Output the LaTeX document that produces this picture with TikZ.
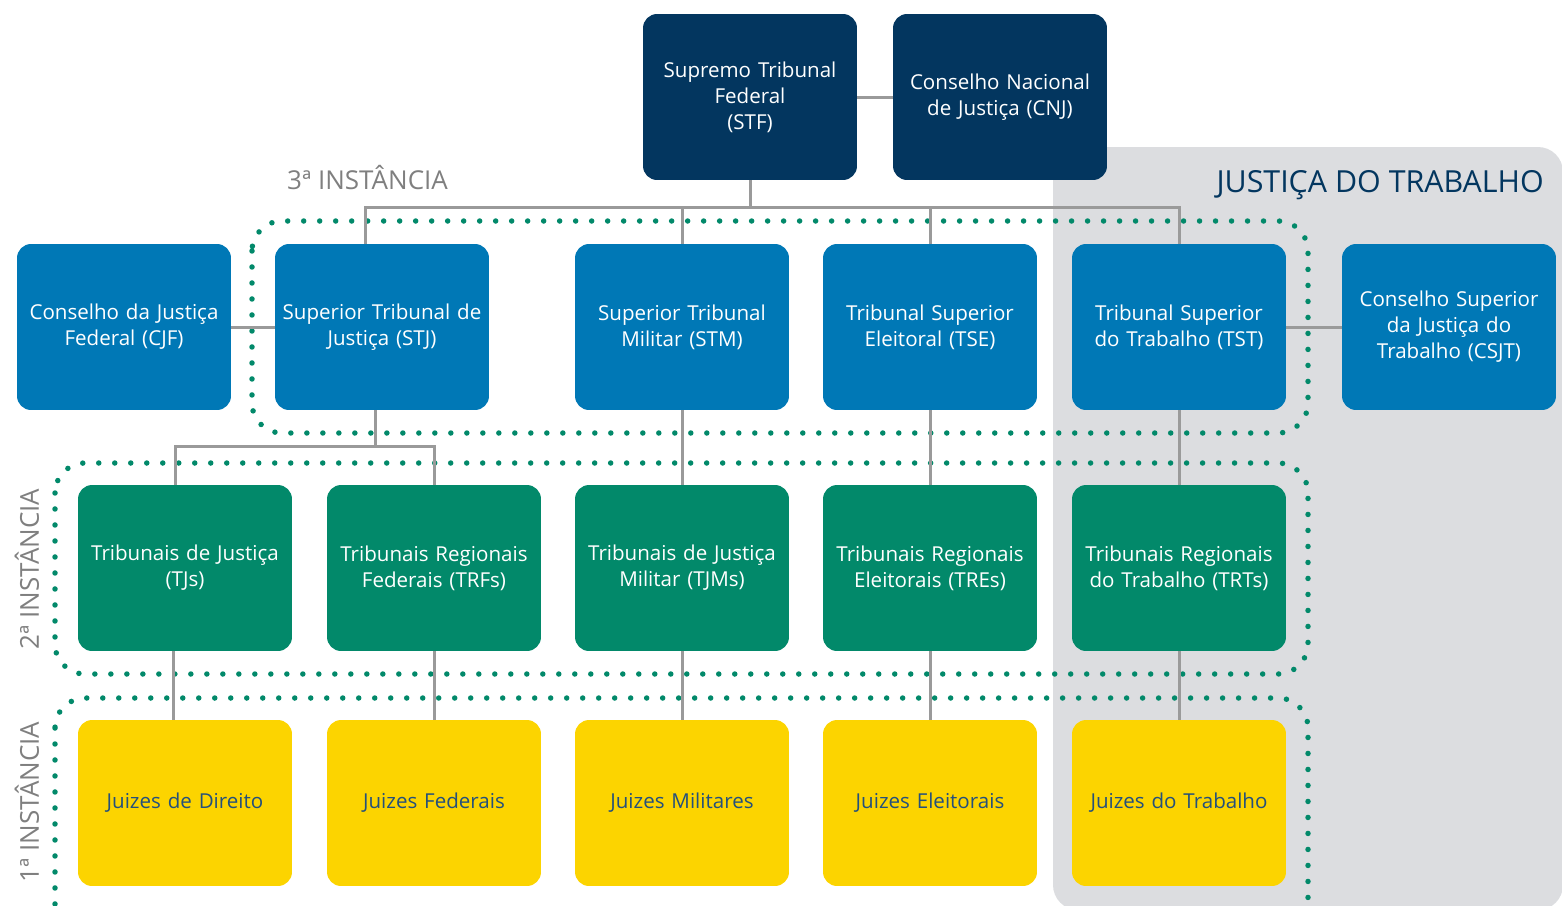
\documentclass[tikz,border=0pt]{standalone}
\usepackage{fontspec}
\setmainfont{Open Sans}
\usetikzlibrary{positioning}

\definecolor{navy}{HTML}{03365F}
\definecolor{azul}{HTML}{0078B6}
\definecolor{verde}{HTML}{02896A}
\definecolor{amarelo}{HTML}{FCD400}
\definecolor{cinza}{HTML}{DCDDE0}
\definecolor{linha}{HTML}{9A9A9A}
\definecolor{rotulo}{HTML}{7F7F7F}
\definecolor{textoazul}{HTML}{24507C}

\begin{document}
\begin{tikzpicture}[x=0.02cm, y=-0.02cm,
  box/.style={rounded corners=0.28cm, minimum width=4.28cm, minimum height=3.32cm,
    text width=4.2cm, align=center, inner sep=0pt, text=white,
    font=\fontsize{11.7}{14.8}\selectfont},
  cupula/.style={box, fill=navy},
  superior/.style={box, fill=azul},
  regional/.style={box, fill=verde},
  primeira/.style={box, fill=amarelo, text=textoazul},
  conn/.style={draw=linha, line width=0.06cm},
  inst/.style={draw=verde, line width=0.11cm, line cap=round,
    dash pattern=on 0pt off 0.32cm, rounded corners=0.6cm},
  rotulo/.style={text=rotulo, font=\fontsize{14.8}{17}\selectfont}]

\useasboundingbox (0,0) rectangle (1562,906);

% justica do trabalho
\fill[cinza, rounded corners=0.5cm] (1053,147) rectangle (1563,910);

% instancias
\draw[inst] (252,221) rectangle (1308,433);
\draw[inst] (55,463) rectangle (1308,674);
\draw[inst] (55,698) rectangle (1308,935);

\node[rotulo, anchor=west] (l3) at (281,178) {3ª INSTÂNCIA};
\node[rotulo, rotate=90] (l2) at (27,569) {2ª INSTÂNCIA};
\node[rotulo, rotate=90] (l1) at (27,802) {1ª INSTÂNCIA};
\node[anchor=east, text=navy, font=\fontsize{17.3}{20}\selectfont] (jt) at (1550,185) {JUSTIÇA DO TRABALHO};

% cupula
\node[cupula] (stf) at (750,97) {Supremo Tribunal\\Federal\\(STF)};
\node[cupula] (cnj) at (1000,97) {Conselho Nacional\\de Justiça (CNJ)};

% tribunais superiores
\node[superior] (cjf) at (124,327) {Conselho da Justiça\\Federal (CJF)};
\node[superior] (stj) at (382,327) {Superior Tribunal de\\Justiça (STJ)};
\node[superior] (stm) at (682,327) {Superior Tribunal\\Militar (STM)};
\node[superior] (tse) at (930,327) {Tribunal Superior\\Eleitoral (TSE)};
\node[superior] (tst) at (1179,327) {Tribunal Superior\\do Trabalho (TST)};
\node[superior] (csjt) at (1449,327) {Conselho Superior\\da Justiça do\\Trabalho (CSJT)};

% 2a instancia
\node[regional] (tjs) at (185,568) {Tribunais de Justiça\\(TJs)};
\node[regional] (trfs) at (434,568) {Tribunais Regionais\\Federais (TRFs)};
\node[regional] (tjms) at (682,568) {Tribunais de Justiça\\Militar (TJMs)};
\node[regional] (tres) at (930,568) {Tribunais Regionais\\Eleitorais (TREs)};
\node[regional] (trts) at (1179,568) {Tribunais Regionais\\do Trabalho (TRTs)};

% 1a instancia
\node[primeira] (jdir) at (185,803) {Juizes de Direito};
\node[primeira] (jfed) at (434,803) {Juizes Federais};
\node[primeira] (jmil) at (682,803) {Juizes Militares};
\node[primeira] (jele) at (930,803) {Juizes Eleitorais};
\node[primeira] (jtra) at (1179,803) {Juizes do Trabalho};

% ligacoes
\coordinate (topo) at (750,207);
\coordinate (ramo) at (375,446);
\draw[conn] (stf.east) -- (cnj.west);
\draw[conn] (stf.south) -- (topo);
\draw[conn] ([xshift=-0.34cm]stj.north) |- (topo) -| (tst.north);
\draw[conn] (stm.north) -- (stm.north |- topo);
\draw[conn] (tse.north) -- (tse.north |- topo);
\draw[conn] (cjf.east) -- (stj.west);
\draw[conn] (tst.east) -- (csjt.west);
\draw[conn] (stj.south -| ramo) -- (ramo);
\draw[conn] ([xshift=-0.2cm]tjs.north) |- (ramo) -| (trfs.north);
\foreach \a/\b in {stm/tjms, tse/tres, tst/trts, trfs/jfed, tjms/jmil, tres/jele, trts/jtra}
  \draw[conn] (\a.south) -- (\b.north);
\draw[conn] ([xshift=-0.24cm]tjs.south) -- ([xshift=-0.24cm]jdir.north);
\end{tikzpicture}
\end{document}
